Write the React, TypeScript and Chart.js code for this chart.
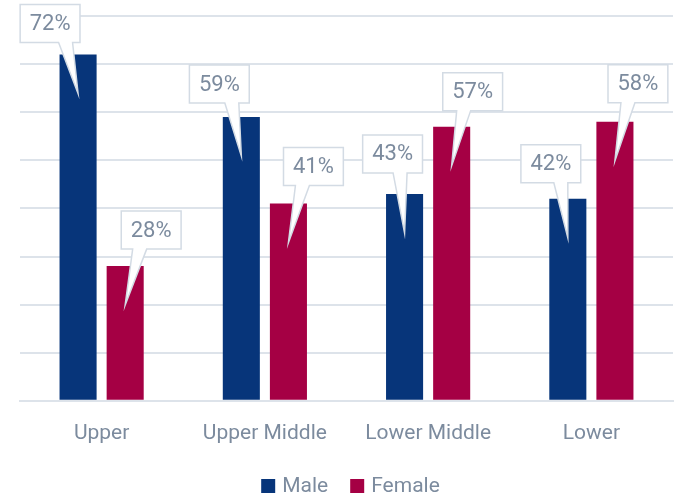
import React, { useEffect, useRef } from "react";
import { Chart, registerables } from "chart.js";

Chart.register(...registerables);

const categories = ["Upper", "Upper Middle", "Lower Middle", "Lower"];
const maleValues = [72, 59, 43, 42];
const femaleValues = [28, 41, 57, 58];
const yTicks = [0, 10, 20, 30, 40, 50, 60, 70, 80];

const FONT = "Roboto, 'Open Sans', 'DejaVu Sans', sans-serif";
const TEXT = "#7c8b9e";

const calloutPlugin = {
  id: "callouts",
  afterDatasetsDraw(chart: any, _args: any, opts: any) {
    const ctx = chart.ctx;
    ctx.save();
    ctx.font = `${opts.fontSize}px ${FONT}`;
    chart.data.datasets.forEach((ds: any, di: number) => {
      const meta = chart.getDatasetMeta(di);
      meta.data.forEach((bar: any, i: number) => {
        const text = `${ds.data[i]}%`;
        const bx = bar.x;
        const by = bar.y;
        const off = opts.offsets[di][i];
        const tw = ctx.measureText(text).width;
        const w = tw + 19;
        const h = 38;
        const cx = bx + off[0];
        const bottom = by - off[1];
        const left = cx - w / 2;
        const right = cx + w / 2;
        const top = bottom - h;
        const tipX = bx;
        const tipY = by + 39;
        let baseC = (cx + bx) / 2 + 1.5;
        baseC = Math.max(left + 8, Math.min(right - 8, baseC));
        const b1 = baseC - 7;
        const b2 = baseC + 7;
        ctx.beginPath();
        ctx.moveTo(left, top);
        ctx.lineTo(right, top);
        ctx.lineTo(right, bottom);
        ctx.lineTo(b2, bottom);
        ctx.lineTo(tipX, tipY);
        ctx.lineTo(b1, bottom);
        ctx.lineTo(left, bottom);
        ctx.closePath();
        ctx.fillStyle = "#ffffff";
        ctx.fill();
        ctx.lineWidth = 1.5;
        ctx.strokeStyle = "#d3dbe4";
        ctx.stroke();
        ctx.fillStyle = TEXT;
        ctx.textAlign = "center";
        ctx.textBaseline = "middle";
        ctx.fillText(text, cx, top + h / 2 + 1);
      });
    });
    ctx.restore();
  },
};

const legendPlugin = {
  id: "bottomLegend",
  afterDraw(chart: any, _args: any, opts: any) {
    const ctx = chart.ctx;
    ctx.save();
    ctx.font = `${opts.fontSize}px ${FONT}`;
    const items = chart.data.datasets.map((d: any) => ({
      label: d.label,
      color: d.backgroundColor,
      tw: ctx.measureText(d.label).width,
    }));
    const box = 14;
    const gap = 7;
    const itemGap = 22;
    let total = 0;
    items.forEach((it: any, i: number) => {
      total += box + gap + it.tw + (i > 0 ? itemGap : 0);
    });
    const ca = chart.chartArea;
    let x = (ca.left + ca.right) / 2 + 4 - total / 2;
    const y = opts.y;
    items.forEach((it: any) => {
      ctx.fillStyle = it.color;
      ctx.fillRect(x, y - box / 2, box, box);
      ctx.fillStyle = TEXT;
      ctx.textAlign = "left";
      ctx.textBaseline = "middle";
      ctx.fillText(it.label, x + box + gap, y + 1);
      x += box + gap + it.tw + itemGap;
    });
    ctx.restore();
  },
};

export default function App() {
  const ref = useRef<HTMLCanvasElement | null>(null);
  useEffect(() => {
    document.body.style.margin = "0";
    const chart = new Chart(ref.current as HTMLCanvasElement, {
      type: "bar",
      data: {
        labels: categories,
        datasets: [
          {
            label: "Male",
            data: maleValues,
            backgroundColor: "#07357a",
            categoryPercentage: 0.577,
            barPercentage: 0.787,
          },
          {
            label: "Female",
            data: femaleValues,
            backgroundColor: "#a50044",
            categoryPercentage: 0.577,
            barPercentage: 0.787,
          },
        ],
      },
      options: {
        animation: false,
        responsive: false,
        maintainAspectRatio: false,
        layout: { padding: { left: 20, right: 8, top: 16, bottom: 40 } },
        scales: {
          x: {
            grid: { display: false },
            border: { display: true, color: "#dde3ea", width: 2 },
            ticks: {
              color: TEXT,
              font: { family: FONT, size: 21 },
              padding: 12,
            },
          },
          y: {
            min: 0,
            max: 80,
            afterBuildTicks: (axis: any) => {
              axis.ticks = yTicks.map((v) => ({ value: v }));
            },
            ticks: { display: false },
            grid: { color: "#dde3ea", lineWidth: 2, drawTicks: false },
            border: { display: false },
          },
        },
        plugins: {
          legend: { display: false },
          tooltip: { enabled: false },
          callouts: {
            fontSize: 22,
            offsets: [
              [[-28, 12], [-22, 14], [-12, 21], [-17, 16]],
              [[26, 17], [25, 18], [21, 16], [23, 19]],
            ],
          },
          bottomLegend: { fontSize: 21, y: 486 },
        } as any,
      },
      plugins: [calloutPlugin, legendPlugin],
    });
    return () => chart.destroy();
  }, []);
  return (
    <div style={{ position: "absolute", left: 0, top: 0, width: 681, height: 498 }}>
      <canvas ref={ref} width={681} height={498} style={{ width: 681, height: 498 }} />
    </div>
  );
}
